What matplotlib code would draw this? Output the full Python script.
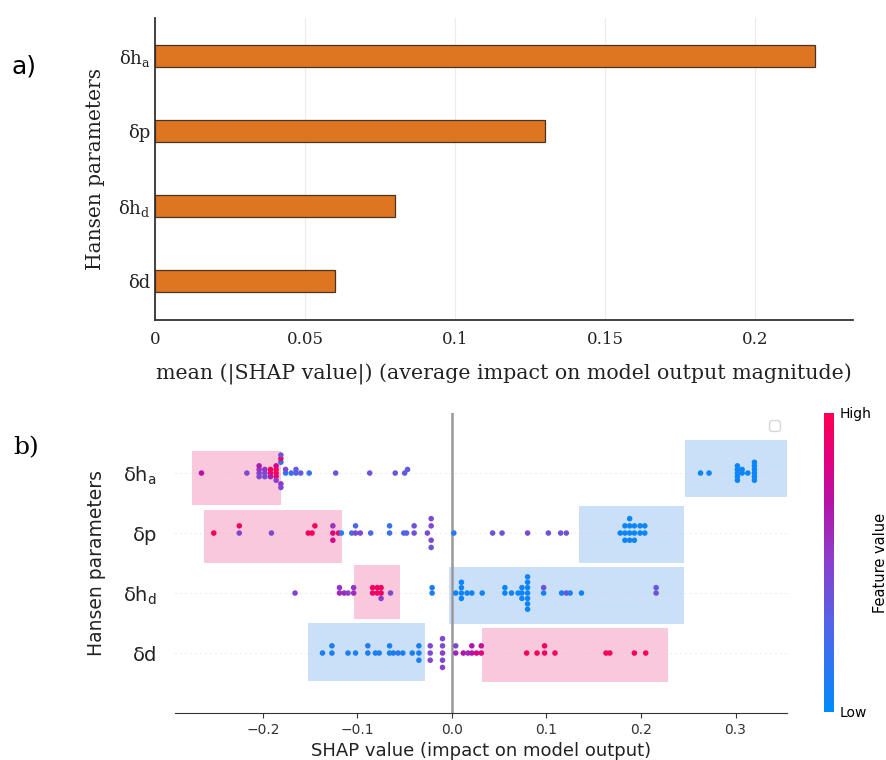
import numpy as np
import matplotlib
matplotlib.use('Agg')
from matplotlib import pyplot as plt
from matplotlib.colors import LinearSegmentedColormap
from matplotlib.patches import Rectangle
from matplotlib.cm import ScalarMappable

# ---- panel a: mean |SHAP| ----
bar_labels = ['δh$_\\mathrm{a}$', 'δp', 'δh$_\\mathrm{d}$', 'δd']
mean_shap = [0.22, 0.13, 0.08, 0.06]
bar_ticks = [0, 0.05, 0.1, 0.15, 0.2]
bar_ticklabels = ['0', '0.05', '0.1', '0.15', '0.2']

# ---- panel b: beeswarm (shap value, feature value) per parameter ----
dha_shap = [-0.265, -0.217, -0.204, -0.204, -0.204, -0.204, -0.198, -0.198, -0.198,
            -0.192, -0.192, -0.192, -0.186, -0.186, -0.186, -0.186, -0.186,
            -0.181, -0.181, -0.181, -0.181, -0.181, -0.176, -0.176, -0.170,
            -0.165, -0.165, -0.160, -0.151, -0.123, -0.087, -0.060, -0.050, -0.047,
            0.263, 0.272, 0.302, 0.302, 0.302, 0.302, 0.302, 0.307, 0.307, 0.313,
            0.320, 0.320, 0.320, 0.320, 0.320, 0.320]
dha_feat = [0.7, 0.45, 0.5, 0.55, 0.45, 0.65, 0.45, 0.55, 0.4,
            0.9, 0.95, 0.65, 0.95, 1.0, 0.9, 0.8, 0.5,
            0.15, 0.55, 0.95, 0.45, 0.4, 0.15, 0.45, 0.2,
            0.3, 0.35, 0.35, 0.2, 0.4, 0.4, 0.4, 0.35, 0.35,
            0.05, 0.05, 0.05, 0.05, 0.05, 0.05, 0.05, 0.05, 0.05, 0.05,
            0.05, 0.05, 0.05, 0.05, 0.05, 0.05]

dp_shap = [-0.252, -0.225, -0.225, -0.191, -0.152, -0.148, -0.145, -0.126, -0.126, -0.126,
           -0.120, -0.117, -0.106, -0.102, -0.102, -0.097, -0.086, -0.066, -0.066,
           -0.051, -0.048, -0.040, -0.040, -0.026, -0.022, -0.022, -0.022, -0.022,
           0.002, 0.043, 0.053, 0.080, 0.102, 0.115, 0.121,
           0.178, 0.183, 0.183, 0.183, 0.188, 0.188, 0.188, 0.188, 0.193, 0.193, 0.193,
           0.199, 0.199, 0.204, 0.204]
dp_feat = [0.95, 0.45, 0.95, 0.45, 0.95, 0.95, 0.95, 0.85, 0.55, 0.8,
           0.95, 0.1, 0.25, 0.45, 0.25, 0.45, 0.25, 0.2, 0.2,
           0.3, 0.3, 0.4, 0.4, 0.45, 0.45, 0.45, 0.45, 0.4,
           0.15, 0.4, 0.4, 0.45, 0.4, 0.4, 0.4,
           0.05, 0.05, 0.05, 0.05, 0.05, 0.05, 0.05, 0.05, 0.05, 0.05, 0.05,
           0.05, 0.05, 0.05, 0.05]

dhd_shap = [-0.166, -0.119, -0.119, -0.114, -0.110, -0.104, -0.104, -0.084, -0.084,
            -0.079, -0.079, -0.075, -0.075, -0.075, -0.065, -0.021, -0.021,
            0.004, 0.010, 0.010, 0.010, 0.010, 0.016, 0.021, 0.032, 0.056, 0.056, 0.063,
            0.070, 0.074, 0.074, 0.074, 0.080, 0.080, 0.080, 0.080, 0.080, 0.080, 0.080,
            0.097, 0.097, 0.116, 0.121, 0.125, 0.137, 0.216, 0.216]
dhd_feat = [0.5, 0.6, 0.55, 0.6, 0.5, 0.6, 0.55, 0.9, 0.95,
            0.95, 0.95, 0.95, 0.95, 0.5, 0.45, 0.1, 0.1,
            0.05, 0.05, 0.05, 0.05, 0.05, 0.05, 0.05, 0.05, 0.05, 0.05, 0.05,
            0.05, 0.05, 0.05, 0.05, 0.05, 0.05, 0.05, 0.05, 0.05, 0.05, 0.05,
            0.05, 0.4, 0.1, 0.4, 0.1, 0.05, 0.4, 0.35]

dd_shap = [-0.137, -0.127, -0.127, -0.110, -0.102, -0.089, -0.089, -0.081, -0.077,
           -0.066, -0.066, -0.062, -0.057, -0.052, -0.042, -0.035, -0.035, -0.035,
           -0.023, -0.023, -0.023, -0.010, -0.010, -0.010, -0.010, -0.010,
           0.004, 0.004, 0.012, 0.017, 0.021, 0.021, 0.026, 0.031, 0.031,
           0.079, 0.090, 0.098, 0.098, 0.109, 0.163, 0.167, 0.193, 0.205]
dd_feat = [0.1, 0.1, 0.1, 0.1, 0.1, 0.1, 0.15, 0.1, 0.1,
           0.1, 0.1, 0.1, 0.15, 0.1, 0.1, 0.1, 0.1, 0.1,
           0.45, 0.45, 0.45, 0.5, 0.45, 0.45, 0.45, 0.5,
           0.6, 0.45, 0.7, 0.6, 0.7, 0.7, 0.8, 0.85, 0.75,
           0.95, 0.95, 0.95, 0.95, 0.95, 0.95, 0.95, 0.95, 0.95]

swarm_labels = ['δh$_\\mathrm{a}$', 'δp', 'δh$_\\mathrm{d}$', 'δd']
swarm_shap = [dha_shap, dp_shap, dhd_shap, dd_shap]
swarm_feat = [dha_feat, dp_feat, dhd_feat, dd_feat]

# highlighted regions: row, x0, x1, y0, y1, kind
region_row = [0, 0, 1, 1, 2, 2, 3, 3]
region_x0 = [-0.275, 0.2466, -0.2624, 0.1344, -0.1037, -0.003, -0.152, 0.0317]
region_x1 = [-0.181, 0.3566, -0.1164, 0.2455, -0.055, 0.2455, -0.0286, 0.2286]
region_lo = [-0.53, -0.40, -0.50, -0.50, -0.43, -0.52, -0.47, -0.48]
region_hi = [0.37, 0.55, 0.38, 0.45, 0.47, 0.43, 0.50, 0.42]
region_kind = ['high', 'low', 'high', 'low', 'high', 'low', 'low', 'high']

shap_cmap = LinearSegmentedColormap.from_list(
    'red_blue', [(0.0, '#008bfb'), (0.3, '#5563e6'), (0.5, '#8a40cc'),
                 (0.7, '#b414a8'), (0.85, '#e2007e'), (1.0, '#ff0052')])


def swarm_offsets(shaps, row_height=0.4, nbins=100):
    shaps = np.asarray(shaps)
    quant = np.round(nbins * (shaps - shaps.min()) / (shaps.max() - shaps.min() + 1e-8))
    inds = np.argsort(quant, kind='stable')
    layer, last_bin = 0, -1
    ys = np.zeros(len(shaps))
    for ind in inds:
        if quant[ind] != last_bin:
            layer = 0
        ys[ind] = np.ceil(layer / 2) * ((layer % 2) * 2 - 1)
        layer += 1
        last_bin = quant[ind]
    ys *= 0.9 * (row_height / np.max(ys + 1))
    return ys


fig = plt.figure(figsize=(8.87, 7.6), dpi=100)

# ---------- a) ----------
ax1 = fig.add_axes([0.1747, 0.5789, 0.787, 0.3974])
pos = np.arange(len(mean_shap))[::-1]
ax1.barh(pos, mean_shap, height=0.3, color='#de7520', edgecolor='#4a3322', linewidth=0.9, zorder=2)
ax1.set_xlim(0, 0.2327)
ax1.set_ylim(-0.52, 3.51)
ax1.set_xticks(bar_ticks)
ax1.set_xticklabels(bar_ticklabels)
ax1.set_yticks(pos)
ax1.set_yticklabels(bar_labels)
ax1.grid(axis='x', color='#ececec', linewidth=0.8)
ax1.set_axisbelow(True)
for s in ['top', 'right']:
    ax1.spines[s].set_visible(False)
for s in ['left', 'bottom']:
    ax1.spines[s].set_color('#333333')
    ax1.spines[s].set_linewidth(1.3)
ax1.tick_params(axis='x', length=0, pad=8, labelsize=12)
ax1.tick_params(axis='y', length=0, pad=3, labelsize=13)
for t in ax1.get_xticklabels() + ax1.get_yticklabels():
    t.set_fontfamily('DejaVu Serif')
    t.set_math_fontfamily('dejavuserif')
    t.set_color('#222222')
ax1.set_xlabel('mean (|SHAP value|) (average impact on model output magnitude)',
               family='DejaVu Serif', fontsize=14.8, labelpad=11, color='#222222')
ax1.set_ylabel('Hansen parameters', family='DejaVu Serif', fontsize=14.5, labelpad=10, color='#222222')

fig.text(0.013, 0.913, 'a)', fontsize=18, family='DejaVu Sans', va='center')
fig.text(0.015, 0.411, 'b)', fontsize=18, family='DejaVu Serif', va='center')

# ---------- b) ----------
ax2 = fig.add_axes([0.1973, 0.0618, 0.690, 0.3947])
nrows = len(swarm_labels)
for i in range(len(region_row)):
    y = nrows - 1 - region_row[i]
    color = '#f9c8dc' if region_kind[i] == 'high' else '#c9e0f8'
    ax2.add_patch(Rectangle((region_x0[i], y + region_lo[i]), region_x1[i] - region_x0[i],
                            region_hi[i] - region_lo[i], facecolor=color, edgecolor='none', zorder=0))
ax2.axvline(0, color='#999999', linewidth=1.8, zorder=1)
for i in range(nrows):
    y = nrows - 1 - i
    ax2.axhline(y, color='#cccccc', lw=0.6, dashes=(1, 5), zorder=1)
    ys = swarm_offsets(swarm_shap[i])
    ax2.scatter(swarm_shap[i], y + ys, c=swarm_feat[i], cmap=shap_cmap, vmin=0, vmax=1,
                s=16, linewidths=0, zorder=3)
ax2.set_xlim(-0.293, 0.3545)
ax2.set_ylim(-1, 4)
ax2.set_xticks([-0.2, -0.1, 0.0, 0.1, 0.2, 0.3])
ax2.set_yticks(np.arange(nrows)[::-1])
ax2.set_yticklabels(swarm_labels)
for s in ['top', 'right', 'left']:
    ax2.spines[s].set_visible(False)
ax2.spines['bottom'].set_color('#333333')
ax2.tick_params(axis='x', color='#333333', labelcolor='#333333', labelsize=10)
ax2.tick_params(axis='y', length=0, pad=13, labelsize=14, labelcolor='#222222')
ax2.set_xlabel('SHAP value (impact on model output)', fontsize=13, color='#222222')
ax2.set_ylabel('Hansen parameters', fontsize=13.5, labelpad=12, color='#222222')
ax2.legend(handles=[], loc='upper right')

cax = fig.add_axes([0.929, 0.0632, 0.0113, 0.3934])
sm = ScalarMappable(cmap=shap_cmap)
sm.set_array([0, 1])
cb = fig.colorbar(sm, cax=cax, ticks=[0, 1])
cb.set_ticklabels(['Low', 'High'])
cb.outline.set_visible(False)
cax.tick_params(length=0, labelsize=10, pad=4)
cb.set_label('Feature value', size=10.5, labelpad=1)

fig.savefig('out.png', dpi=100)
